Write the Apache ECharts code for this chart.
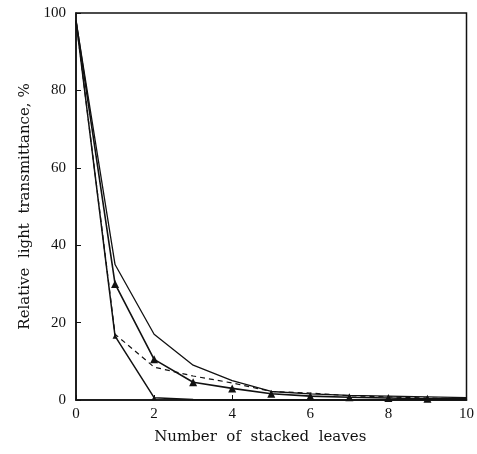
<!DOCTYPE html>
<html>
<head>
    <meta charset="utf-8">
    <title>Relative light transmittance</title>
    <script src="https://cdn.jsdelivr.net/npm/echarts@6/dist/echarts.min.js"></script>
    <style>body{margin:0;background:#fff;}</style>
</head>
<body>
    <div id="main" style="width:477px;height:454px;"></div>
    <script type="text/javascript">
// leaves stacked
var leaves = [0, 1, 2, 3, 4, 5, 6, 7, 8, 9, 10];
// upper solid line, no markers
var upperVals = [98, 35, 17, 9, 5, 2.2, 1.6, 1.2, 1.0, 0.8, 0.6];
// solid line with triangles
var triVals = [98, 30, 10.5, 4.6, 3.0, 1.6, 1.0, 0.7, 0.5, 0.3, 0.3];
var triMarked = [0, 1, 1, 1, 1, 1, 1, 1, 1, 1, 0];
// dashed line
var dashVals = [98, 17, 8.5, 6.2, 4.4, 2.2, 1.8, 1.1, 0.8, 0.5, 0.3];
// lower solid line
var lowVals = [98, 16.5, 0.6, 0.1, 0, 0, 0, 0, 0, 0, 0];
var lowMarked = [0, 1, 1, 0, 0, 0, 0, 0, 0, 0, 0];

function pairs(vals, marked) {
    var out = [];
    for (var i = 0; i < vals.length; i++) {
        var p = { value: [leaves[i], vals[i]] };
        if (marked && !marked[i]) p.symbol = 'none';
        out.push(p);
    }
    return out;
}

var chart = echarts.init(document.getElementById('main'));
var font = 'Liberation Serif';
var titleFont = 'DejaVu Serif';

chart.setOption({
    animation: false,
    backgroundColor: '#fff',
    grid: { left: 76, right: 10, top: 13, bottom: 54, show: true, borderColor: '#111', borderWidth: 1.5 },
    xAxis: {
        type: 'value', min: 0, max: 10, interval: 2,
        name: 'Number  of  stacked  leaves', nameLocation: 'middle', nameGap: 30,
        nameTextStyle: { fontFamily: titleFont, fontSize: 15, color: '#111', padding: [0, 22, 0, 0] },
        axisLine: { lineStyle: { color: '#111', width: 1.5 } },
        axisTick: { inside: true, length: 5, lineStyle: { color: '#111' } },
        axisLabel: { fontFamily: font, fontSize: 15, color: '#111', margin: 7 },
        splitLine: { show: false }
    },
    yAxis: {
        type: 'value', min: 0, max: 100, interval: 20,
        name: 'Relative  light  transmittance, %', nameLocation: 'middle', nameGap: 43,
        nameTextStyle: { fontFamily: titleFont, fontSize: 15, color: '#111' },
        axisLine: { show: true, lineStyle: { color: '#111', width: 1.5 } },
        axisTick: { show: true, inside: true, length: 5, lineStyle: { color: '#111' } },
        axisLabel: { fontFamily: font, fontSize: 15, color: '#111', margin: 10 },
        splitLine: { show: false }
    },
    series: [
        {
            name: 'upper', type: 'line', data: pairs(upperVals),
            showSymbol: false, lineStyle: { color: '#111', width: 1.3 }
        },
        {
            name: 'triangle', type: 'line', data: pairs(triVals, triMarked),
            symbol: 'triangle', symbolSize: 8,
            itemStyle: { color: '#111' }, lineStyle: { color: '#111', width: 1.6 }
        },
        {
            name: 'dashed', type: 'line', data: pairs(dashVals),
            showSymbol: false, lineStyle: { color: '#111', width: 1.2, type: [5, 4] }
        },
        {
            name: 'lower', type: 'line', data: pairs(lowVals, lowMarked),
            symbol: 'triangle', symbolSize: 5,
            itemStyle: { color: '#111' }, lineStyle: { color: '#111', width: 1.5 }
        }
    ]
});
    </script>
</body>
</html>
